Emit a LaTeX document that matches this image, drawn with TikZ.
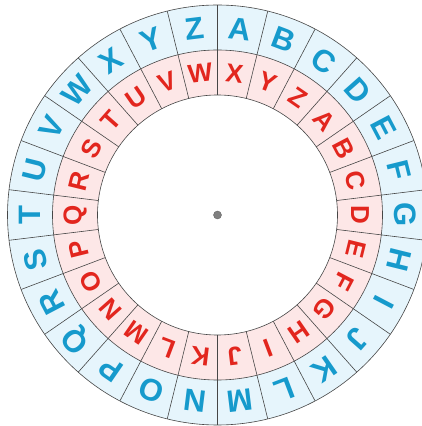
\documentclass[tikz,border=0pt]{standalone}
\usepackage{fontspec}
\setmainfont{Liberation Sans}
\usetikzlibrary{calc}
\definecolor{wheelblue}{RGB}{22,154,204}
\definecolor{wheelred}{RGB}{226,38,30}
\definecolor{ringblue}{RGB}{230,245,252}
\definecolor{ringred}{RGB}{253,231,231}
\definecolor{rimgray}{RGB}{70,70,70}

\begin{document}
\begin{tikzpicture}[
    x=1pt, y=1pt,
    outer_letter/.style={text=wheelblue, inner sep=0pt, font=\fontsize{31pt}{31pt}\selectfont\bfseries},
    inner_letter/.style={text=wheelred, inner sep=0pt, font=\fontsize{26pt}{26pt}\selectfont\bfseries},
    rim/.style={draw=rimgray, line width=0.6pt},
    hub/.style={circle, fill=black!50, draw=black!60, inner sep=0pt, minimum size=8pt}
]
\useasboundingbox (0,0) rectangle (422,426);
\coordinate (hub_c) at (217.5,211);

% rings
\fill[ringblue] (hub_c) circle (210);
\fill[ringred] (hub_c) circle (165);
\fill[white] (hub_c) circle (120);
\draw[rim] (hub_c) circle (210) (hub_c) circle (165) (hub_c) circle (120);
\foreach \k in {0,...,25} {
    \draw[rim] ($(hub_c)+(90-\k*360/26:120)$) -- ($(hub_c)+(90-\k*360/26:210)$);
}

% plain alphabet, outside
\foreach \ch [count=\i from 0, evaluate=\i as \ang using 90-(\i+0.5)*360/26] in {A,...,Z} {
    \node[outer_letter, rotate=\ang-90] (outer-\ch) at ($(hub_c)+(\ang:187.5)$) {\ch};
}
% shifted alphabet, inside
\foreach \ch [count=\i from 0, evaluate=\i as \ang using 90-(\i+0.5)*360/26] in {X,Y,Z,A,B,C,D,E,F,G,H,I,J,K,L,M,N,O,P,Q,R,S,T,U,V,W} {
    \node[inner_letter, rotate=\ang-90] (inner-\ch) at ($(hub_c)+(\ang:142.5)$) {\ch};
}

\node[hub] (hub) at (hub_c) {};

\end{tikzpicture}
\end{document}
